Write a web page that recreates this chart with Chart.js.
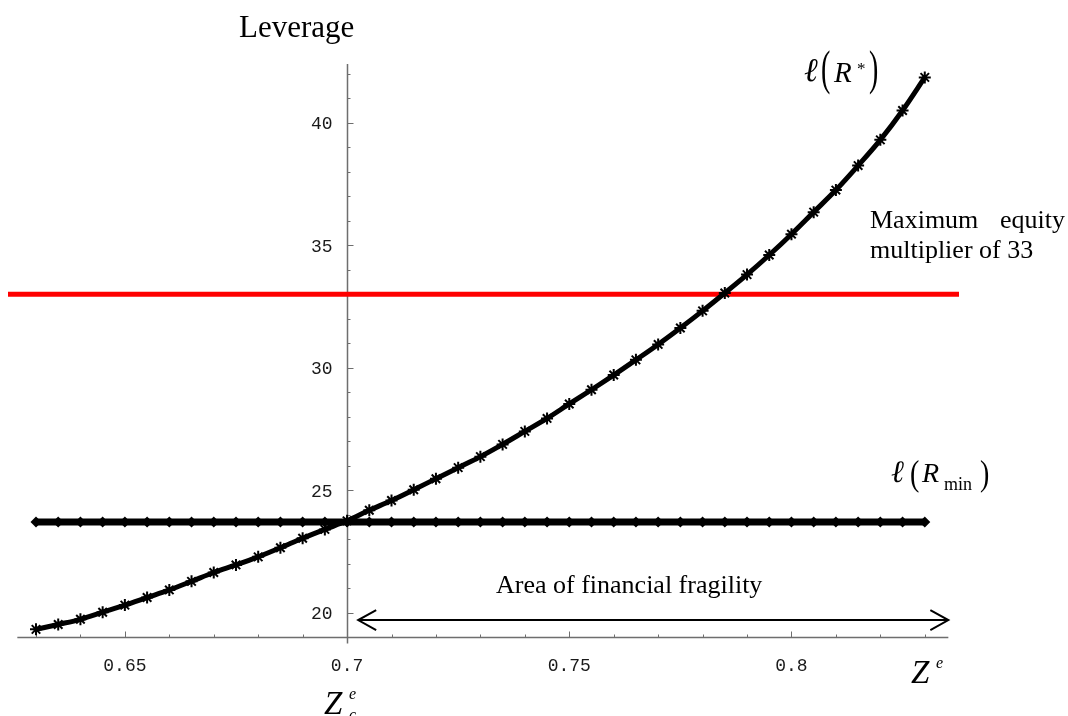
<!DOCTYPE html>
<html>
<head>
<meta charset="utf-8">
<title>Leverage</title>
<script src="https://cdn.jsdelivr.net/npm/chart.js@4.4.0/dist/chart.umd.min.js"></script>
<style>
  html, body { margin: 0; padding: 0; background: #fff; }
  #wrap { width: 1068px; height: 716px; }
</style>
</head>
<body>
<div id="wrap"><canvas id="chart" width="1068" height="716"></canvas></div>
<script>
// ---- data ----
const zValues = [
  0.630, 0.635, 0.640, 0.645, 0.650, 0.655, 0.660, 0.665, 0.670, 0.675,
  0.680, 0.685, 0.690, 0.695, 0.700, 0.705, 0.710, 0.715, 0.720, 0.725,
  0.730, 0.735, 0.740, 0.745, 0.750, 0.755, 0.760, 0.765, 0.770, 0.775,
  0.780, 0.785, 0.790, 0.795, 0.800, 0.805, 0.810, 0.815, 0.820, 0.825,
  0.830
];
// l(R*)
const leverageOptimal = [
  19.32, 19.52, 19.73, 20.02, 20.31, 20.62, 20.93, 21.28, 21.64, 21.95,
  22.28, 22.65, 23.04, 23.40, 23.75, 24.18, 24.58, 25.02, 25.47, 25.92,
  26.37, 26.87, 27.40, 27.93, 28.52, 29.10, 29.70, 30.32, 30.95, 31.62,
  32.32, 33.05, 33.80, 34.60, 35.45, 36.35, 37.25, 38.25, 39.30, 40.50,
  41.85
];
// l(Rmin), flat
const leverageMinLevel = 23.7;
// maximum equity multiplier
const maxMultiplier = 33;
const maxMultiplierZ = [0.6237, 0.8377];

// axes
const zAxisRange = [0.6258, 0.8353];
const levAxisRange = [19.0, 42.4];
const zCross = 0.7;
const levCross = 19.0;
const xMajorTicks = [0.65, 0.70, 0.75, 0.80];
const xTickLabels = ['0.65', '0.7', '0.75', '0.8'];
const xMinorTicks = [0.63, 0.64, 0.66, 0.67, 0.68, 0.69, 0.71, 0.72, 0.73, 0.74,
                     0.76, 0.77, 0.78, 0.79, 0.81, 0.82, 0.83];
const yMajorTicks = [20, 25, 30, 35, 40];
const yTickLabels = ['20', '25', '30', '35', '40'];
const yMinorTicks = [21, 22, 23, 24, 26, 27, 28, 29, 31, 32, 33, 34, 36, 37, 38, 39, 41, 42];

// fragility arrow
const fragilityZ = [0.7025, 0.8353];
const fragilityLevel = 19.7;

// ---- helpers ----
const SERIF = '"Liberation Serif", "Times New Roman", serif';
const MONO = '"Liberation Mono", "DejaVu Sans Mono", monospace';

function drawParen(ctx, ch, x, yTop, yBottom) {
  const f = 28;
  const s = (yBottom - yTop) / (0.909 * f);
  const base = yBottom - 0.215 * f * s;
  ctx.save();
  ctx.translate(x, base);
  ctx.scale(1, s);
  ctx.font = f + 'px ' + SERIF;
  ctx.textAlign = 'left';
  ctx.textBaseline = 'alphabetic';
  ctx.fillText(ch, 0, 0);
  ctx.restore();
}

function txt(ctx, s, x, y, font, align) {
  ctx.font = font;
  ctx.textAlign = align || 'left';
  ctx.textBaseline = 'alphabetic';
  ctx.fillText(s, x, y);
}

// ---- axes, ticks, labels ----
const overlay = {
  id: 'overlay',
  beforeDatasetsDraw(chart) {
    const { ctx, scales: { x, y } } = chart;
    const X = v => x.getPixelForValue(v);
    const Y = v => y.getPixelForValue(v);
    const ax = Math.round(X(zCross)) + 0.5;
    const ay = Math.round(Y(levCross)) + 0.5;

    ctx.save();
    ctx.strokeStyle = '#6e6e6e';
    ctx.lineWidth = 1.5;
    ctx.beginPath();
    ctx.moveTo(X(zAxisRange[0]), ay);
    ctx.lineTo(X(zAxisRange[1]), ay);
    ctx.moveTo(ax, Y(levAxisRange[1]));
    ctx.lineTo(ax, ay + 6);
    ctx.stroke();

    ctx.lineWidth = 1;
    ctx.beginPath();
    xMajorTicks.forEach(t => { const px = Math.round(X(t)) + 0.5; ctx.moveTo(px, ay); ctx.lineTo(px, ay - 6); });
    xMinorTicks.forEach(t => { const px = Math.round(X(t)) + 0.5; ctx.moveTo(px, ay); ctx.lineTo(px, ay - 3); });
    yMajorTicks.forEach(t => { const py = Math.round(Y(t)) + 0.5; ctx.moveTo(ax, py); ctx.lineTo(ax + 6, py); });
    yMinorTicks.forEach(t => { const py = Math.round(Y(t)) + 0.5; ctx.moveTo(ax, py); ctx.lineTo(ax + 3, py); });
    ctx.stroke();

    ctx.fillStyle = '#1a1a1a';
    xMajorTicks.forEach((t, i) => txt(ctx, xTickLabels[i], X(t), ay + 33, '18px ' + MONO, 'center'));
    yMajorTicks.forEach((t, i) => {
      ctx.font = '18px ' + MONO;
      ctx.textAlign = 'right';
      ctx.textBaseline = 'middle';
      ctx.fillText(yTickLabels[i], ax - 15, Y(t) + 2);
    });
    ctx.restore();
  },
  afterDatasetsDraw(chart) {
    const { ctx, scales: { x, y } } = chart;
    const X = v => x.getPixelForValue(v);
    const Y = v => y.getPixelForValue(v);
    ctx.save();
    ctx.fillStyle = '#000';
    ctx.strokeStyle = '#000';

    // double arrow
    const x0 = X(fragilityZ[0]), x1 = X(fragilityZ[1]), ya = Y(fragilityLevel);
    ctx.lineWidth = 2;
    ctx.beginPath();
    ctx.moveTo(x0, ya); ctx.lineTo(x1, ya);
    ctx.moveTo(x0 + 18, ya - 10); ctx.lineTo(x0, ya); ctx.lineTo(x0 + 18, ya + 10);
    ctx.moveTo(x1 - 18, ya - 10); ctx.lineTo(x1, ya); ctx.lineTo(x1 - 18, ya + 10);
    ctx.stroke();

    // texts
    txt(ctx, 'Leverage', 239, 37, '31px ' + SERIF);
    txt(ctx, 'Area of financial fragility', 496, 593, '26px ' + SERIF);
    txt(ctx, 'Maximum', 870, 228, '26px ' + SERIF);
    txt(ctx, 'equity', 1065, 228, '26px ' + SERIF, 'right');
    txt(ctx, 'multiplier of 33', 870, 258, '26px ' + SERIF);

    // l(R*)
    txt(ctx, '\u2113', 804, 81, 'italic 33px ' + SERIF);
    drawParen(ctx, '(', 821, 50, 95);
    txt(ctx, 'R', 834, 82, 'italic 29px ' + SERIF);
    txt(ctx, '*', 857, 74, '17px ' + SERIF);
    drawParen(ctx, ')', 869, 50, 95);

    // l(Rmin)
    txt(ctx, '\u2113', 891, 482, 'italic 31px ' + SERIF);
    drawParen(ctx, '(', 910, 460, 493);
    txt(ctx, 'R', 922, 482, 'italic 28px ' + SERIF);
    txt(ctx, 'min', 944, 490, '18px ' + SERIF);
    drawParen(ctx, ')', 980, 460, 493);

    // Z^e
    txt(ctx, 'Z', 911, 683, 'italic 33px ' + SERIF);
    txt(ctx, 'e', 936, 668, 'italic 16px ' + SERIF);
    // Z_c^e
    txt(ctx, 'Z', 324, 714, 'italic 33px ' + SERIF);
    txt(ctx, 'e', 349, 699, 'italic 16px ' + SERIF);
    txt(ctx, 'c', 349, 720, 'italic 16px ' + SERIF);
    ctx.restore();
  }
};

const ctx = document.getElementById('chart').getContext('2d');
const chart = new Chart(ctx, {
  type: 'line',
  data: {
    datasets: [
      {
        label: 'l(R*)',
        data: zValues.map((z, i) => ({ x: z, y: leverageOptimal[i] })),
        borderColor: '#000',
        borderWidth: 5,
        pointStyle: 'star',
        pointRadius: 6,
        pointBorderWidth: 2,
        pointBorderColor: '#000',
        pointBackgroundColor: '#000',
        cubicInterpolationMode: 'monotone',
        clip: false,
        order: 0
      },
      {
        label: 'l(Rmin)',
        data: zValues.map(z => ({ x: z, y: leverageMinLevel })),
        borderColor: '#000',
        borderWidth: 7,
        pointStyle: 'rectRot',
        pointRadius: 5.5,
        pointBorderWidth: 0,
        pointBackgroundColor: '#000',
        clip: false,
        order: 1
      },
      {
        label: 'Maximum equity multiplier',
        data: maxMultiplierZ.map(z => ({ x: z, y: maxMultiplier })),
        borderColor: '#ff0000',
        borderWidth: 5,
        pointRadius: 0,
        clip: false,
        order: 2
      }
    ]
  },
  options: {
    responsive: false,
    animation: false,
    events: [],
    layout: { padding: { left: 0, right: 109, top: 61.45, bottom: 66.55 } },
    scales: {
      x: { type: 'linear', min: 0.6237, max: 0.8377, display: false },
      y: { type: 'linear', min: 18.5, max: 42.5, display: false }
    },
    plugins: {
      legend: { display: false },
      tooltip: { enabled: false }
    }
  },
  plugins: [overlay]
});
</script>
</body>
</html>
